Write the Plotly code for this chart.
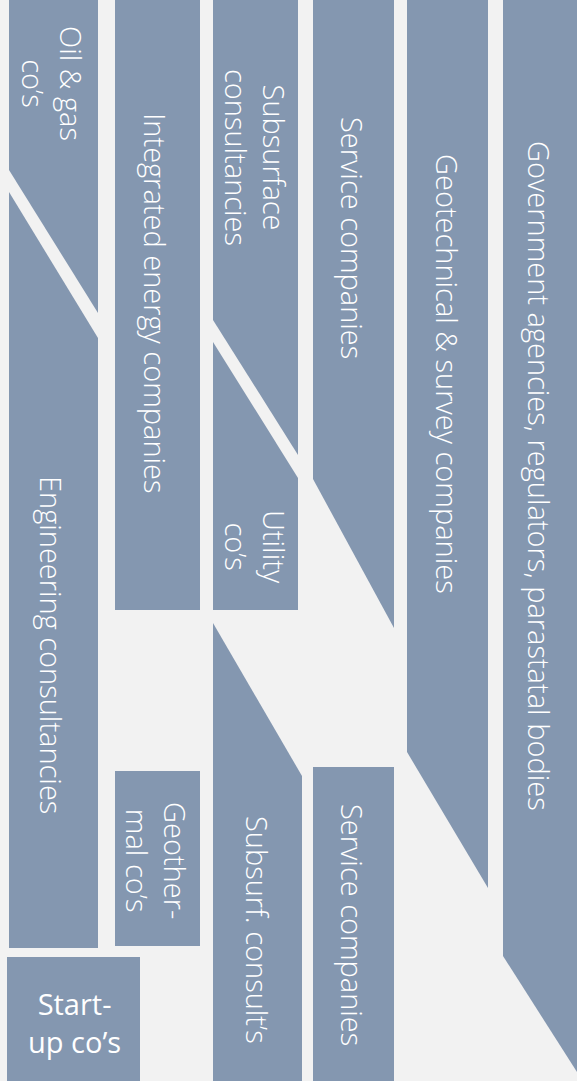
import plotly.graph_objects as go

# ---- data (pixel-space coordinates of the diagram, y grows downward) ----
BG = "#F2F2F2"
FILL = "#8497B0"

shape_names = [
    "Oil & gas", "Engineering", "Integrated", "Geothermal", "Start-up",
    "Subsurface", "Utility", "Subsurf lower", "Service upper", "Service lower",
    "Geotechnical", "Government",
]
shape_x = [
    [9, 98, 98, 9],
    [9, 98, 98, 9],
    [115, 200, 200, 115],
    [115, 200, 200, 115],
    [7, 140, 140, 7],
    [213, 298, 298, 213],
    [213, 298, 298, 213],
    [213, 302, 302, 213],
    [313, 394, 394, 313],
    [313, 394, 394, 313],
    [407, 488, 488, 407],
    [503, 577, 577, 503],
]
shape_y = [
    [0, 0, 313, 170],
    [192, 338, 948, 948],
    [0, 0, 610, 610],
    [771, 771, 946, 946],
    [957, 957, 1081, 1081],
    [0, 0, 455, 320],
    [342, 478, 610, 610],
    [623, 776, 1081, 1081],
    [0, 0, 628, 479],
    [767, 767, 1081, 1081],
    [0, 0, 888, 752],
    [0, 0, 1072, 956],
]

labels = [
    "Oil &amp; gas<br>co’s",
    "Integrated energy companies",
    "Subsurface<br>consultancies",
    "Service companies",
    "Geotechnical &amp; survey companies",
    "Government agencies, regulators, parastatal bodies",
    "Engineering consultancies",
    "Utility<br>co’s",
    "Geother-<br>mal co’s",
    "Subsurf. consult’s",
    "Service companies",
    "Start-<br>up co’s",
]
label_x = [53, 156, 256, 353, 448, 540, 52, 256, 157, 258, 353, 74]
label_y = [83, 303, 157, 238, 374, 476, 645, 547, 860, 930, 925, 1022]
label_angle = [90, 90, 90, 90, 90, 90, 90, 90, 90, 90, 90, 0]
label_weight = [300, 300, 300, 300, 300, 300, 300, 300, 300, 300, 300, 400]

W, H = 577, 1081

fig = go.Figure()
for name, xs, ys in zip(shape_names, shape_x, shape_y):
    fig.add_trace(go.Scatter(
        x=xs + [xs[0]], y=ys + [ys[0]], mode="lines", fill="toself",
        fillcolor=FILL, line=dict(width=0, color=FILL),
        hoverinfo="skip", showlegend=False, name=name,
    ))

for t, x, y, a, w in zip(labels, label_x, label_y, label_angle, label_weight):
    fig.add_annotation(
        x=x, y=y, xref="x", yref="y", text=t, showarrow=False,
        textangle=a, xanchor="center", yanchor="middle", align="center",
        font=dict(family="Open Sans", size=29, color="white", weight=w),
    )

fig.update_xaxes(range=[0, W], visible=False, fixedrange=True)
fig.update_yaxes(range=[H, 0], visible=False, fixedrange=True)
fig.update_layout(
    width=W, height=H, margin=dict(l=0, r=0, t=0, b=0, pad=0),
    paper_bgcolor=BG, plot_bgcolor=BG, showlegend=False,
)
fig.write_html(
    "out.html",
    config={"displayModeBar": False},
    post_script="document.body.style.margin='0';document.body.style.overflow='hidden';",
)
